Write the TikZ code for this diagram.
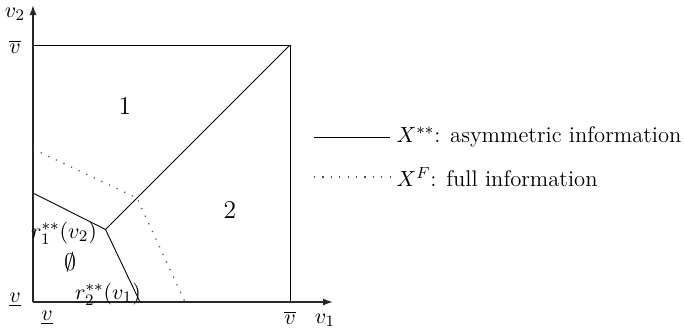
\documentclass[tikz,border=0pt]{standalone}
\usetikzlibrary{arrows.meta}
\begin{document}
\begin{tikzpicture}[x=0.5pt,y=-0.5pt,
  axis/.style={line width=0.7pt,draw=black!85,-{Latex[length=5pt,width=3.5pt]}},
  solidln/.style={line width=0.45pt},
  dotln/.style={line width=0.6pt,draw=black!70,dotted,dash pattern=on 0.6pt off 3.6pt},
  lbl/.style={inner sep=0pt,font=\fontsize{11.3}{13}\selectfont},
  biglbl/.style={inner sep=0pt,font=\fontsize{12.8}{15}\selectfont}]
\useasboundingbox (0,0) rectangle (684,333);
\coordinate (O) at (33,302);
\coordinate (Ytop) at (33,5);
\coordinate (Xend) at (333,302);
\coordinate (TL) at (33,45);
\coordinate (TR) at (290,45);
\coordinate (BR) at (290,302);
\coordinate (K) at (105.5,229.5);
\coordinate (SL) at (33,193);
\coordinate (SB) at (140,302);
\coordinate (DK) at (137,198);
\coordinate (DL) at (33,149);
\coordinate (DB) at (185,302);
% axes
\draw[axis] (O) -- (Ytop);
\draw[axis] (O) -- (Xend);
% box
\draw[solidln] (TL) -- (TR) -- (BR);
% solid boundaries
\draw[solidln] (TR) -- (K);
\draw[solidln] (SL) -- (K) -- (SB);
% dotted boundaries
\draw[dotln] (DL) -- (DK) -- (DB);
% labels
\node[lbl] (v2) at (15,14) {$v_2$};
\node[lbl] (vbarL) at (15,47) {$\overline{v}$};
\node[lbl] (vunL) at (15,300) {$\underline{v}$};
\node[lbl] (vunB) at (47,318) {$\underline{v}$};
\node[lbl] (vbarB) at (290,318) {$\overline{v}$};
\node[lbl] (v1) at (325,320) {$v_1$};
\node[biglbl] (one) at (125,106) {1};
\node[biglbl] (two) at (230,210) {2};
\node[lbl] (r1) at (64,233) {$r_1^{**}(v_2)$};
\node[biglbl] (empty) at (70,262) {$\emptyset$};
\node[lbl] (r2) at (108,294) {$r_2^{**}(v_1)$};
% legend
\coordinate (La) at (314,137);
\coordinate (Lb) at (390,137);
\coordinate (Lc) at (314,177);
\coordinate (Ld) at (390,177);
\draw[solidln] (La) -- (Lb);
\draw[dotln] (Lc) -- (Ld);
\node[lbl,anchor=west] (leg1) at (396,137) {$X^{**}$: asymmetric information};
\node[lbl,anchor=west] (leg2) at (396,177) {$X^{F}$: full information};
\end{tikzpicture}
\end{document}
